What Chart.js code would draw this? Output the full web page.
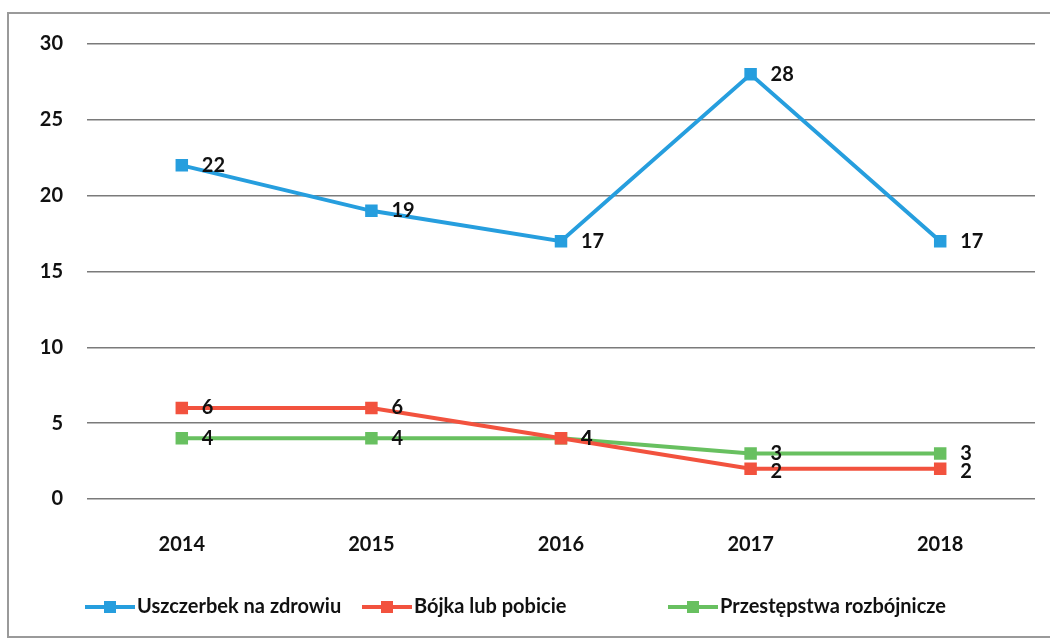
<!DOCTYPE html>
<html>
<head>
<meta charset="utf-8">
<script src="https://cdn.jsdelivr.net/npm/chart.js@4.4.1/dist/chart.umd.min.js"></script>
<style>
  html, body { margin: 0; padding: 0; background: #fff; }
  #wrap { position: relative; width: 1050px; height: 639px; }
  #frame { position: absolute; left: 7px; top: 12px; width: 1060px; height: 626px; border: 2px solid #9a9a9a; box-sizing: border-box; }
  #chart-main { position: absolute; left: 0; top: 0; }
</style>
</head>
<body>
<div id="wrap">
  <div id="frame"></div>
  <canvas id="chart-main" width="1050" height="639"></canvas>
</div>
<script>
const years = ["2014", "2015", "2016", "2017", "2018"];
const uszczerbek = [22, 19, 17, 28, 17];
const bojka = [6, 6, 4, 2, 2];
const rozboj = [4, 4, 4, 3, 3];
const seriesNames = ["Uszczerbek na zdrowiu", "Bójka lub pobicie", "Przestępstwa rozbójnicze"];
const yTicks = [0, 5, 10, 15, 20, 25, 30];

const blue = "rgb(38,158,222)";
const red = "rgb(242,82,62)";
const green = "rgb(104,192,96)";
const fontFamily = "Lato, 'Open Sans', sans-serif";

// where each legend entry starts, like the Excel original lays them out
const legendLeft = [85, 362, 668];
const legendY = 607;

const valueLabels = {
    id: "valueLabels",
    afterDatasetsDraw(chart) {
        const ctx = chart.ctx;
        ctx.save();
        ctx.font = "bold 20px " + fontFamily;
        ctx.fillStyle = "#111";
        ctx.textAlign = "left";
        ctx.textBaseline = "middle";
        chart.data.datasets.forEach((ds, i) => {
            const meta = chart.getDatasetMeta(i);
            meta.data.forEach((pt, j) => {
                let dy = 0;
                if (i === 1 && ds.data[j] < chart.data.datasets[2].data[j]) dy = 3;
                ctx.fillText(String(ds.data[j]), pt.x + 20, pt.y + dy);
            });
        });
        ctx.restore();
    }
};

// legend drawn by hand: line + square marker, text right after it
const lineLegend = {
    id: "lineLegend",
    afterDraw(chart) {
        const ctx = chart.ctx;
        ctx.save();
        ctx.font = "bold 20px " + fontFamily;
        ctx.textAlign = "left";
        ctx.textBaseline = "middle";
        chart.data.datasets.forEach((ds, i) => {
            const x = legendLeft[i];
            ctx.strokeStyle = ds.borderColor;
            ctx.lineWidth = 4;
            ctx.beginPath();
            ctx.moveTo(x, legendY);
            ctx.lineTo(x + 50, legendY);
            ctx.stroke();
            ctx.fillStyle = ds.borderColor;
            ctx.fillRect(x + 19, legendY - 6, 12, 12);
            ctx.fillStyle = "#111";
            ctx.fillText(ds.label, x + 52, legendY);
        });
        ctx.restore();
    }
};

function makeSeries(label, data, color, order) {
    return {
        label: label,
        data: data,
        borderColor: color,
        backgroundColor: color,
        borderWidth: 4,
        pointStyle: "rect",
        pointRadius: 6,
        pointHoverRadius: 6,
        tension: 0,
        order: order
    };
}

new Chart(document.getElementById("chart-main"), {
    type: "line",
    data: {
        labels: years,
        datasets: [
            makeSeries(seriesNames[0], uszczerbek, blue, 1),
            makeSeries(seriesNames[1], bojka, red, 2),
            makeSeries(seriesNames[2], rozboj, green, 3)
        ]
    },
    plugins: [valueLabels, lineLegend],
    options: {
        responsive: false,
        animation: false,
        layout: { padding: { top: 44, right: 15, bottom: 48, left: 0 } },
        plugins: {
            tooltip: { enabled: false },
            legend: { display: false }
        },
        scales: {
            x: {
                offset: true,
                grid: { display: false, drawTicks: false },
                border: { display: false },
                ticks: {
                    padding: 34,
                    color: "#111",
                    font: { family: fontFamily, size: 20, weight: "bold" }
                }
            },
            y: {
                min: 0,
                max: 30,
                afterFit(scale) { scale.width = 87; },
                afterBuildTicks(scale) { scale.ticks = yTicks.map(v => ({ value: v })); },
                grid: { color: "#7a7a7a", lineWidth: 1.5, drawTicks: false },
                border: { display: false },
                ticks: {
                    padding: 24,
                    color: "#111",
                    font: { family: fontFamily, size: 20, weight: "bold" }
                }
            }
        }
    }
});
</script>
</body>
</html>
